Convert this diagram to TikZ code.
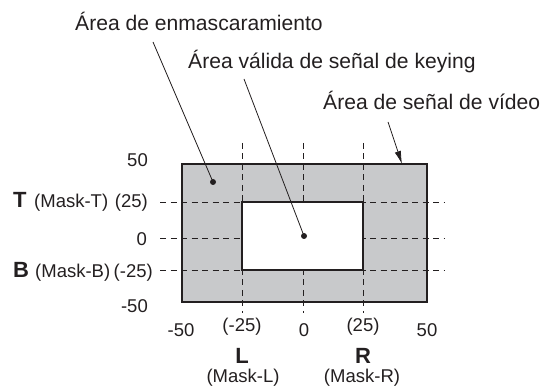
\documentclass[tikz,border=0pt]{standalone}
\usepackage{fontspec}
\setmainfont{Liberation Sans}
\usetikzlibrary{arrows.meta}
\definecolor{ink}{HTML}{231F20}
\definecolor{maskgray}{HTML}{C8C9CB}
\begin{document}
\begin{tikzpicture}[x=1pt,y=-1pt,
  lbl/.style={inner sep=0pt, text=ink, font=\fontsize{21.1}{23}\selectfont},
  num/.style={inner sep=0pt, text=ink, font=\fontsize{18.5}{20}\selectfont},
  big/.style={inner sep=0pt, text=ink, font=\fontsize{22}{24}\selectfont\bfseries},
  guide/.style={draw=ink, line width=0.9pt, dash pattern=on 6pt off 4.5pt},
  leader/.style={draw=ink, line width=0.8pt},
  border/.style={draw=ink, line width=2.4pt},
  dotm/.style={circle, fill=ink, inner sep=0pt, minimum size=6pt}]
\useasboundingbox (0,0) rectangle (541,387);

% gray masking area
\fill[maskgray] (182,164) rectangle (427,302);

% dashed guide lines
\coordinate (hT1) at (160,202); \coordinate (hT2) at (444,202);
\coordinate (h01) at (160,238); \coordinate (h02) at (444,238);
\coordinate (hB1) at (160,270); \coordinate (hB2) at (444,270);
\coordinate (vL1) at (242,143); \coordinate (vL2) at (242,313);
\coordinate (v01) at (303,143); \coordinate (v02) at (303,313);
\coordinate (vR1) at (363,143); \coordinate (vR2) at (363,313);
\draw[guide] (hT1) -- (hT2);
\draw[guide] (h01) -- (h02);
\draw[guide] (hB1) -- (hB2);
\draw[guide] (vL1) -- (vL2);
\draw[guide] (v01) -- (v02);
\draw[guide] (vR1) -- (vR2);

% valid keying area and video area borders
\draw[border, fill=white] (242,202) rectangle (363,270);
\draw[border] (182,164) rectangle (427,302);

% top labels
\node[lbl, anchor=base west] (mask) at (75,30.5) {Área de enmascaramiento};
\node[lbl, anchor=base west] (valid) at (188,69) {Área válida de señal de keying};
\node[lbl, anchor=base west] (video) at (323,110) {Área de señal de vídeo};

\coordinate (maskS) at (153,42);
\coordinate (validS) at (244,79);
\coordinate (videoS) at (388,122);
\node[dotm] (maskD) at (213,182) {};
\node[dotm] (validD) at (304,236) {};
\coordinate (videoE) at (402,164);

\draw[leader] (maskS) -- (maskD.center);
\draw[leader] (validS) -- (validD.center);
\draw[leader, -{Latex[length=13pt,width=6.5pt]}] (videoS) -- (videoE);

% left scale
\node[num, anchor=base east] (y50) at (148,167) {50};
\node[big, anchor=base west] (T) at (13,207.5) {T};
\node[num, anchor=base west] (mT) at (34,207.5) {(Mask-T)};
\node[num, anchor=base east] (y25) at (148,207.5) {(25)};
\node[num, anchor=base east] (y0) at (147,245.5) {0};
\node[big, anchor=base west] (B) at (13,277.5) {B};
\node[num, anchor=base west] (mB) at (35,277.5) {(Mask-B)};
\node[num, anchor=base east] (ym25) at (153,277.5) {(-25)};
\node[num, anchor=base east] (ym50) at (148,313) {-50};

% bottom scale
\node[num, anchor=base] (xm50) at (181,337) {-50};
\node[num, anchor=base] (xm25) at (242,332) {(-25)};
\node[num, anchor=base] (x0) at (304,337) {0};
\node[num, anchor=base] (x25) at (363,332) {(25)};
\node[num, anchor=base] (x50) at (427,337) {50};
\node[big, anchor=base] (L) at (242,363) {L};
\node[big, anchor=base] (R) at (363,363) {R};
\node[num, anchor=base] (mL) at (243,382.5) {(Mask-L)};
\node[num, anchor=base] (mR) at (362,382.5) {(Mask-R)};
\end{tikzpicture}
\end{document}
